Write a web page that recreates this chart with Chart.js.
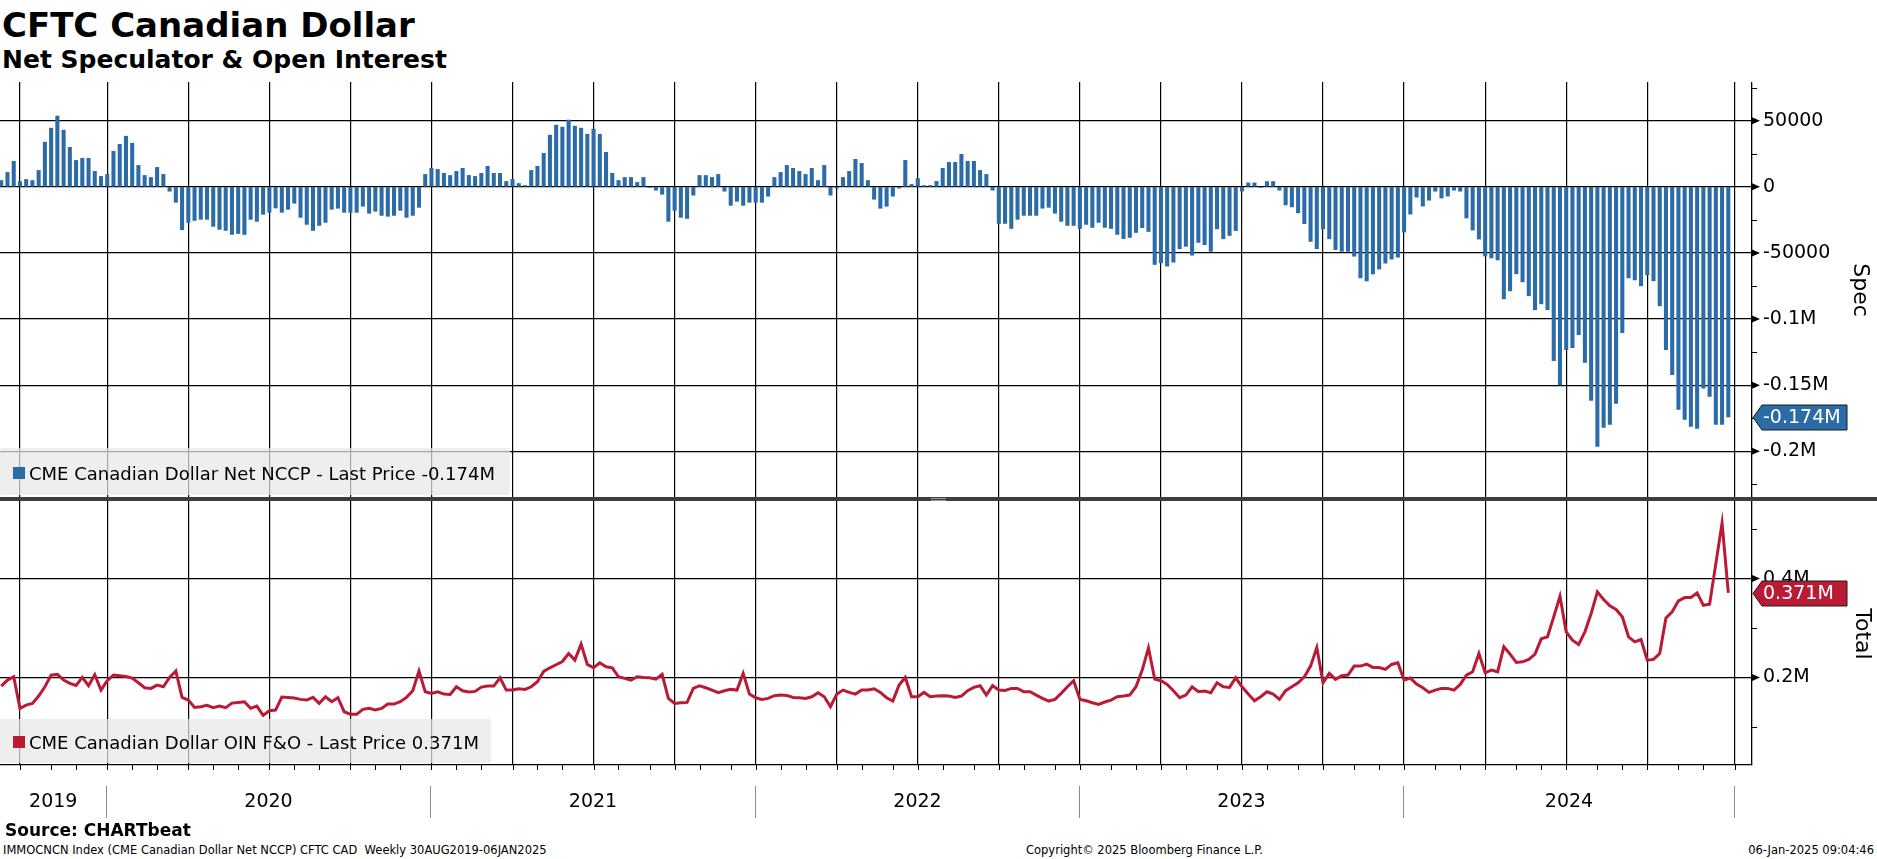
<!DOCTYPE html>
<html>
<head>
<meta charset="utf-8">
<script src="https://cdn.jsdelivr.net/npm/chart.js@4.4.1/dist/chart.umd.min.js"></script>
<style>
  body { margin: 0; background: #fff; }
  #page { position: relative; width: 1877px; height: 859px; overflow: hidden; background: #fff; font-family: "DejaVu Sans", sans-serif; color: #000; }
  .txt { position: absolute; line-height: 1; white-space: pre; }
  .leg { position: absolute; left: 0; background: rgba(232,232,232,0.72); border-radius: 2px; }
  .leg .sq { position: absolute; left: 13px; width: 12px; height: 12px; }
  .leg .lt { position: absolute; left: 29px; font-size: 18px; line-height: 1; white-space: pre; }
  canvas { position: absolute; left: 0; }
</style>
</head>
<body>
<div id="page">
  <div class="txt" style="left:2px;top:8px;font-size:34px;font-weight:bold;">CFTC Canadian Dollar</div>
  <div class="txt" style="left:2px;top:47px;font-size:25px;font-weight:bold;">Net Speculator &amp; Open Interest</div>

  <canvas id="specChart" width="1877" height="415" style="top:82px;width:1877px;height:415px"></canvas>
  <canvas id="oiChart" width="1877" height="330" style="top:501px;width:1877px;height:330px"></canvas>

  <div style="position:absolute;left:0;top:497px;width:1877px;height:4px;background:#3e3e3e"></div>
  <div style="position:absolute;left:931px;top:498px;width:15px;height:1px;background:#9a9a9a"></div>
  <div style="position:absolute;left:931px;top:500px;width:15px;height:1px;background:#9a9a9a"></div>

  <div class="leg" style="top:448px;width:510px;height:47px">
    <div class="sq" style="top:19px;background:#2b6ba8"></div>
    <div class="lt" style="top:17px">CME Canadian Dollar Net NCCP - Last Price -0.174M</div>
  </div>
  <div class="leg" style="top:719px;width:491px;height:44px">
    <div class="sq" style="top:17px;background:#bb1a35"></div>
    <div class="lt" style="top:15px">CME Canadian Dollar OIN F&amp;O - Last Price 0.371M</div>
  </div>

  <div class="txt" style="left:5px;top:822px;font-size:17px;font-weight:bold;">Source: CHARTbeat</div>
  <div class="txt" style="left:3px;top:845px;font-size:11.5px;">IMMOCNCN Index (CME Canadian Dollar Net NCCP) CFTC CAD  Weekly 30AUG2019-06JAN2025</div>
  <div class="txt" style="left:1026px;top:845px;font-size:11.5px;">Copyright© 2025 Bloomberg Finance L.P.</div>
  <div class="txt" style="right:3px;top:845px;font-size:11.5px;">06-Jan-2025 09:04:46</div>
</div>

<script>
// weekly CFTC report dates (Tuesdays), first visible one
const startDate = Date.UTC(2019, 8, 10);
const weeksShown = 281;

// CME Canadian Dollar net non-commercial positions (contracts), one per week
const specNet = [
  4800, 10900, 19300, 4000, 5600, 4800, 12400, 33800, 44400, 53600,
  42900, 29900, 20000, 21600, 21600, 11700, 7900, 9400, 26900, 32200,
  38300, 33000, 16200, 8600, 7100, 14700, 9400, -3300, -11700, -32500,
  -26900, -25400, -24600, -24600, -29900, -32200, -33000, -36000, -35300, -36000,
  -24600, -26100, -20800, -19300, -16000, -19300, -17000, -12400, -23100, -28400,
  -33000, -29200, -26900, -17000, -16200, -19300, -19300, -19300, -14700, -20000,
  -18500, -21600, -22300, -21600, -17800, -23100, -21600, -15500, 9400, 14000,
  13200, 10200, 8600, 11700, 14000, 8600, 7900, 10200, 15500, 10200,
  10200, 4100, 5600, 2500, 1000, 12400, 15500, 25400, 39100, 46700,
  45200, 50500, 45900, 44400, 39800, 43700, 39800, 26100, 10200, 4800,
  7100, 7100, 3300, 7100, -500, -2500, -5600, -26100, -17800, -23100,
  -23900, -6300, 8600, 8600, 7100, 9400, -3300, -14000, -10900, -14000,
  -11700, -11700, -11700, -7100, 7100, 10900, 16200, 14000, 11700, 9400,
  14000, 4800, 16200, -6300, -1000, 7100, 11700, 20800, 17800, 4800,
  -9400, -16200, -14700, -7100, -1000, 20000, 1800, 6300, 1000, 1000,
  4100, 14000, 18500, 18500, 24600, 19300, 19300, 12400, 9400, -2500,
  -27700, -27700, -31500, -24600, -21600, -21600, -21600, -16200, -15500, -20000,
  -26100, -29200, -29200, -31500, -28400, -30700, -26900, -30700, -31500, -36000,
  -39100, -38300, -34500, -30900, -33800, -58700, -57500, -60000, -57000, -46800,
  -45000, -51700, -42000, -43800, -48800, -31800, -39300, -36800, -33100, -3200,
  3000, 3000, -200, 4000, 4000, -2500, -13700, -15200, -19700, -27900,
  -41300, -46800, -31800, -39300, -47500, -48800, -48800, -52500, -68900, -71200,
  -65900, -62200, -57700, -54700, -53200, -34200, -20600, -7800, -14600, -10100,
  -3300, -8500, -7000, -2500, -3300, -23600, -32700, -39500, -52300, -53800,
  -55300, -84700, -78700, -65800, -71900, -82400, -93000, -88500, -93000, -131400,
  -149800, -123100, -121600, -111800, -132900, -161600, -196300, -181900, -179700, -163800,
  -110300, -68900, -70400, -74900, -66600, -71100, -90000, -123100, -142000, -168400,
  -175900, -181200, -182700, -152300, -158600, -179700, -179700, -174000
];

// CME Canadian Dollar open interest, futures & options (contracts)
const oiTotal = [
  182500, 194600, 201300, 137400, 144100, 147500, 162300, 181100, 204700, 206100,
  194600, 187900, 183800, 200000, 183200, 205400, 174400, 193300, 204700, 203400,
  202000, 198700, 189200, 179100, 177800, 184500, 181100, 200000, 212800, 159600,
  154200, 139400, 140700, 143400, 138700, 142100, 138700, 148100, 149500, 150800,
  137400, 142100, 123200, 132700, 134000, 160300, 159600, 158200, 155600, 154200,
  159600, 147500, 160900, 150800, 158900, 130600, 125300, 125300, 135400, 137400,
  134000, 137400, 146100, 146100, 150800, 159600, 173100, 212800, 171000, 167700,
  171000, 166300, 165700, 181100, 173100, 170400, 171700, 180500, 182500, 182500,
  199300, 174400, 174400, 177100, 175800, 181100, 191200, 212100, 219500, 225600,
  232300, 248500, 235000, 267300, 226300, 219500, 229600, 221500, 219500, 201300,
  198000, 194600, 201300, 200000, 199300, 196600, 206100, 157600, 147500, 148800,
  149500, 177800, 183200, 179100, 174400, 169000, 173100, 175800, 174400, 208100,
  166300, 158900, 155600, 157600, 163000, 164300, 163600, 159600, 158900, 157600,
  160900, 169000, 160900, 140700, 165700, 174400, 169700, 166300, 174400, 174400,
  177100, 169700, 158900, 152200, 184500, 200000, 160900, 160900, 169700, 160900,
  162300, 163000, 162300, 159600, 162300, 173100, 179800, 183200, 164300, 183200,
  174400, 173700, 177800, 177800, 171000, 171000, 164300, 157600, 152200, 155600,
  167700, 181100, 193300, 155600, 152900, 148800, 145500, 150200, 154200, 160900,
  162300, 164300, 181100, 214800, 259900, 196600, 193300, 185900, 173100, 158900,
  164300, 181100, 171000, 172400, 169000, 189200, 181100, 179800, 199300, 181100,
  166300, 152900, 160900, 171000, 166300, 155600, 173100, 181100, 189200, 201300,
  222900, 260600, 189200, 208100, 196000, 203400, 204700, 222900, 222900, 226900,
  220200, 220200, 216200, 226300, 229600, 194600, 198700, 186500, 179100, 169700,
  174400, 177800, 177800, 174400, 185900, 204700, 211400, 248500, 209400, 214800,
  211400, 262000, 247100, 230300, 231600, 236400, 247100, 278100, 282200, 322600,
  364300, 292300, 275400, 266700, 292300, 329300, 373100, 357600, 344800, 337400,
  322600, 282200, 272100, 276800, 235000, 236400, 248500, 320500, 332700, 354900,
  361600, 361600, 371000, 346100, 348100, 430300, 512500, 371000
];

const specTicks = [50000, 0, -50000, -100000, -150000, -200000];
const specTickLabels = ['50000', '0', '-50000', '-0.1M', '-0.15M', '-0.2M'];
const specMinor = [75000, 25000, -25000, -75000, -125000, -175000, -225000];
const oiTicks = [200000, 400000];
const oiTickLabels = ['0.2M', '0.4M'];
const oiMinor = [100000, 300000, 500000];
const yearLabels = ['2019', '2020', '2021', '2022', '2023', '2024'];

const BLUE = '#2b6ba8';
const RED = '#bb1a35';
const FONT = '"DejaVu Sans", sans-serif';

// month / quarter / year starts, as week index
const monthIdx = [], quarterIdx = [], yearIdx = [];
let prevMonth = new Date(startDate).getUTCMonth();
for (let i = 1; i < weeksShown; i++) {
  const m = new Date(startDate + i * 7 * 86400000).getUTCMonth();
  if (m !== prevMonth) {
    monthIdx.push(i);
    if (m % 3 === 0) quarterIdx.push(i);
    if (m === 0) yearIdx.push(i);
  }
  prevMonth = m;
}

const xScale = (height, border) => ({
  type: 'linear',
  min: -0.2,
  max: 280.8,
  offset: false,
  afterBuildTicks: (s) => { s.ticks = quarterIdx.map(v => ({ value: v })); },
  ticks: { display: false },
  grid: { color: '#000', lineWidth: 1.2, drawTicks: false, offset: false },
  border: border,
  afterFit: (s) => { s.height = height; s.paddingLeft = 0; s.paddingRight = 0; }
});

const yScale = (min, max, ticks, labels) => ({
  position: 'right',
  min: min,
  max: max,
  afterBuildTicks: (s) => { s.ticks = ticks.map(v => ({ value: v })); },
  ticks: {
    autoSkip: false,
    padding: 11,
    color: '#000',
    font: { family: FONT, size: 19 },
    callback: (v) => labels[ticks.indexOf(v)]
  },
  grid: { color: '#000', lineWidth: 1.2, drawTicks: false },
  border: { display: true, color: '#000', width: 1.3 },
  // keep the plot area flush with the canvas: no label padding above/below
  afterFit: (s) => { s.width = 125; s.paddingTop = 0; s.paddingBottom = 0; }
});

const axisDeco = {
  id: 'axisDeco',
  afterDraw(chart, args, o) {
    const ctx = chart.ctx, y = chart.scales.y, a = chart.chartArea;
    ctx.save();
    ctx.fillStyle = '#000';
    o.major.forEach(v => {
      const py = y.getPixelForValue(v);
      ctx.beginPath();
      ctx.moveTo(a.right, py - 3.5);
      ctx.lineTo(a.right + 8, py);
      ctx.lineTo(a.right, py + 3.5);
      ctx.closePath();
      ctx.fill();
    });
    ctx.strokeStyle = '#000';
    ctx.lineWidth = 1;
    o.minor.forEach(v => {
      const py = Math.round(y.getPixelForValue(v)) + 0.5;
      ctx.beginPath();
      ctx.moveTo(a.right, py);
      ctx.lineTo(a.right + 5, py);
      ctx.stroke();
    });

    // last value tag
    const py = Math.round(y.getPixelForValue(o.last)) + 0.5;
    ctx.beginPath();
    ctx.moveTo(a.right + 1, py);
    ctx.lineTo(a.right + 10, py - 12.5);
    ctx.lineTo(a.right + 95, py - 12.5);
    ctx.lineTo(a.right + 95, py + 12.5);
    ctx.lineTo(a.right + 10, py + 12.5);
    ctx.closePath();
    ctx.fillStyle = o.color;
    ctx.fill();
    ctx.strokeStyle = '#1c1c1c';
    ctx.stroke();
    ctx.fillStyle = '#fff';
    ctx.font = '19px ' + FONT;
    ctx.textAlign = 'left';
    ctx.textBaseline = 'middle';
    ctx.fillText(o.lastText, a.right + 11, py + 1);

    // axis title, rotated
    ctx.translate(o.titleX, o.titleY);
    ctx.rotate(Math.PI / 2);
    ctx.fillStyle = '#000';
    ctx.font = '22px ' + FONT;
    ctx.textAlign = 'center';
    ctx.textBaseline = 'middle';
    ctx.fillText(o.title, 0, 0);
    ctx.restore();
  }
};

const timeAxis = {
  id: 'timeAxis',
  afterDraw(chart) {
    const ctx = chart.ctx, x = chart.scales.x, a = chart.chartArea;
    ctx.save();
    ctx.strokeStyle = '#000';
    ctx.lineWidth = 1;
    monthIdx.forEach(i => {
      const px = Math.round(x.getPixelForValue(i)) + 0.5;
      ctx.beginPath();
      ctx.moveTo(px, a.bottom);
      ctx.lineTo(px, a.bottom + 5);
      ctx.stroke();
    });
    ctx.strokeStyle = '#8c8c8c';
    const edges = [x.getPixelForValue(x.min)];
    yearIdx.forEach(i => {
      const px = Math.round(x.getPixelForValue(i) - 1) + 0.5;
      edges.push(px);
      ctx.beginPath();
      ctx.moveTo(px, a.bottom + 21);
      ctx.lineTo(px, a.bottom + 53);
      ctx.stroke();
    });
    ctx.fillStyle = '#000';
    ctx.font = '19px ' + FONT;
    ctx.textAlign = 'center';
    ctx.textBaseline = 'middle';
    yearLabels.forEach((t, k) => {
      ctx.fillText(t, (edges[k] + edges[k + 1]) / 2, a.bottom + 37);
    });
    ctx.restore();
  }
};

const common = {
  animation: false,
  responsive: false,
  devicePixelRatio: 1,
  layout: { padding: 0 },
  events: []
};

new Chart(document.getElementById('specChart'), {
  type: 'bar',
  data: {
    datasets: [{
      data: specNet.map((v, i) => ({ x: i, y: v })),
      backgroundColor: BLUE,
      barThickness: 3.4
    }]
  },
  options: Object.assign({}, common, {
    plugins: {
      legend: { display: false },
      tooltip: { enabled: false },
      axisDeco: {
        major: specTicks, minor: specMinor, last: specNet[specNet.length - 1],
        lastText: '-0.174M', color: BLUE, title: 'Spec', titleX: 1860, titleY: 208
      }
    },
    scales: {
      x: xScale(0, { display: false }),
      y: yScale(-234600, 79300, specTicks, specTickLabels)
    }
  }),
  plugins: [axisDeco]
});

new Chart(document.getElementById('oiChart'), {
  type: 'line',
  data: {
    datasets: [{
      data: oiTotal.map((v, i) => ({ x: i, y: v })),
      borderColor: RED,
      borderWidth: 3,
      pointRadius: 0,
      tension: 0,
      fill: false
    }]
  },
  options: Object.assign({}, common, {
    plugins: {
      legend: { display: false },
      tooltip: { enabled: false },
      axisDeco: {
        major: oiTicks, minor: oiMinor, last: oiTotal[oiTotal.length - 1],
        lastText: '0.371M', color: RED, title: 'Total', titleX: 1862, titleY: 133
      }
    },
    scales: {
      x: xScale(66, { display: true, color: '#000', width: 1.3 }),
      y: yScale(22800, 557000, oiTicks, oiTickLabels)
    }
  }),
  plugins: [axisDeco, timeAxis]
});
</script>
</body>
</html>
